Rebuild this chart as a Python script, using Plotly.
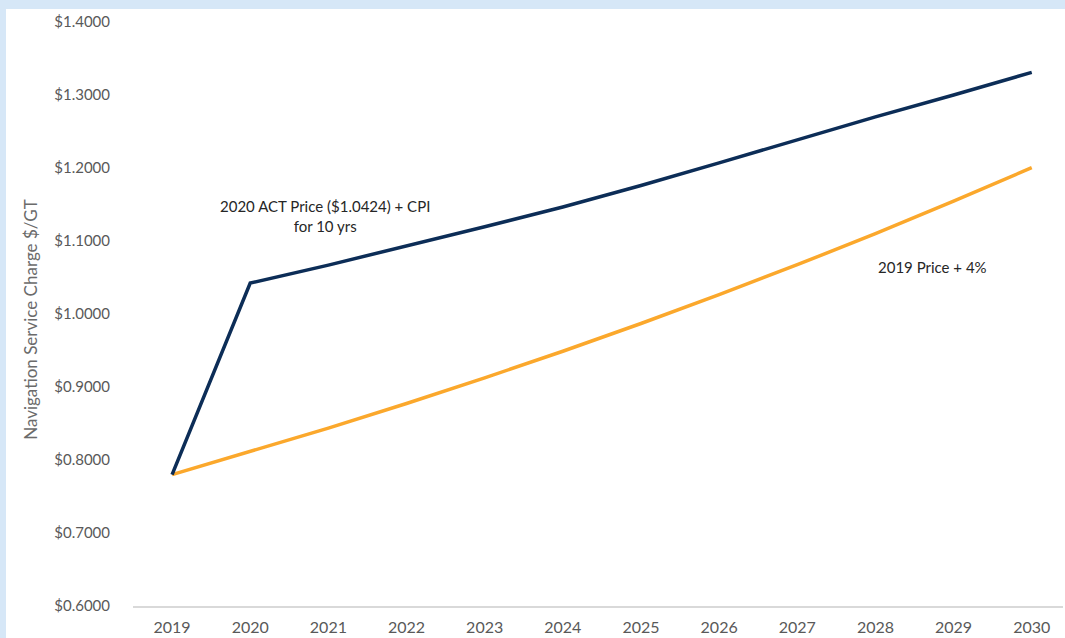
import plotly.graph_objects as go

years = [2019, 2020, 2021, 2022, 2023, 2024, 2025, 2026, 2027, 2028, 2029, 2030]
act_cpi = [0.7800, 1.0424, 1.0670, 1.0930, 1.1195, 1.1465, 1.1760, 1.2070, 1.2385, 1.2700, 1.3000, 1.3310]
price_4pct = [0.7800, 0.8112, 0.8436, 0.8774, 0.9125, 0.9490, 0.9870, 1.0265, 1.0675, 1.1100, 1.1545, 1.2005]
y_ticks = [0.6, 0.7, 0.8, 0.9, 1.0, 1.1, 1.2, 1.3, 1.4]
y_tick_text = ["$%.4f" % v for v in y_ticks]

W, H = 1065, 638
ml, mr, mt, mb = 133, 2, 22, 30
pw = W - ml - mr
ph = H - mt - mb

fig = go.Figure()
fig.add_trace(go.Scatter(x=years, y=price_4pct, mode="lines",
                         line=dict(color="#FBA82C", width=3.5), name="2019 Price + 4%"))
fig.add_trace(go.Scatter(x=years, y=act_cpi, mode="lines",
                         line=dict(color="#0C2D57", width=3.5), name="2020 ACT Price + CPI"))

fig.update_layout(
    width=W, height=H,
    margin=dict(l=ml, r=mr, t=mt, b=mb, pad=0),
    paper_bgcolor="#D6E7F7",
    plot_bgcolor="white",
    showlegend=False,
    font=dict(family="Lato, 'Open Sans', sans-serif", color="#595959"),
    xaxis=dict(range=[2018.5, 2030.4], tickmode="array", tickvals=years,
               ticktext=[str(y) for y in years], showgrid=False, zeroline=False,
               showline=True, linecolor="#D9D9D9", linewidth=1.5,
               ticks="", ticklabelstandoff=6, tickfont=dict(size=16, color="#595959")),
    yaxis=dict(range=[0.6, 1.4], tickmode="array", tickvals=y_ticks,
               ticktext=y_tick_text, showgrid=False, zeroline=False,
               showline=False, ticks="", ticklabelstandoff=22,
               tickfont=dict(size=15, color="#595959")),
    shapes=[dict(type="rect", xref="paper", yref="paper", layer="below",
                 x0=(6 - ml) / pw, x1=1.01, y0=-0.1, y1=(H - 9 - mb) / ph,
                 fillcolor="white", line=dict(width=0))],
    annotations=[
        dict(text="Navigation Service Charge $/GT", textangle=-90, xref="paper", yref="paper",
             x=(31 - ml) / pw, y=0.49, xanchor="center", yanchor="middle", showarrow=False,
             font=dict(size=17, color="#6B6B6B")),
        dict(text="2020 ACT Price ($1.0424) + CPI<br>for 10 yrs", x=2020.96, y=1.134,
             xref="x", yref="y", showarrow=False, font=dict(size=15, color="#262626"),
             align="center"),
        dict(text="2019 Price + 4%", x=2028.73, y=1.064, xref="x", yref="y",
             showarrow=False, font=dict(size=15, color="#262626")),
    ],
)

fig.write_html("out.html", config={"displayModeBar": False},
               post_script="document.body.style.margin='0';document.body.style.padding='0';"
                           "document.body.style.background='#D6E7F7';"
                           "document.documentElement.style.overflow='hidden';")
